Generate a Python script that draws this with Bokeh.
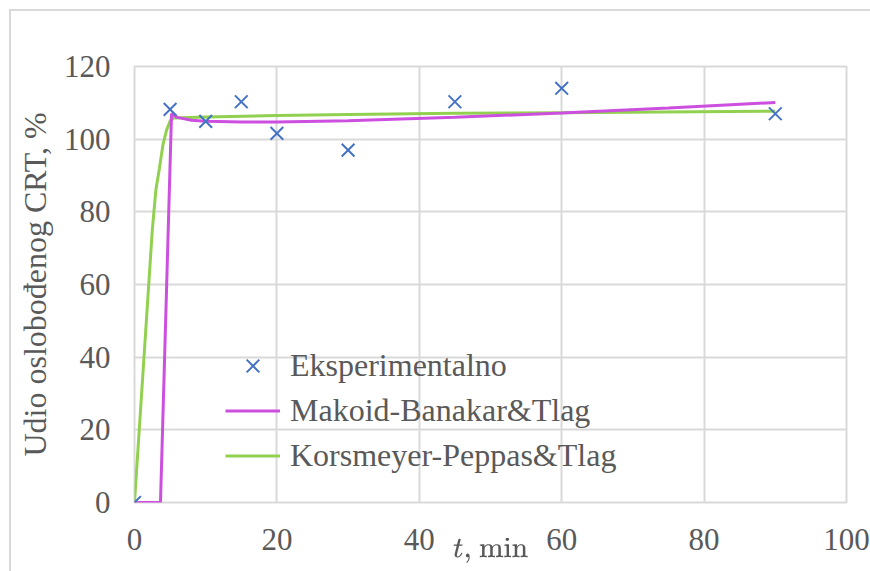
from bokeh.plotting import figure
from bokeh.models import Range1d, FixedTicker, Legend, LegendItem
from bokeh.embed import file_html
from bokeh.resources import INLINE

# Experimental data
t_exp = [0, 5, 10, 15, 20, 30, 45, 60, 90]
y_exp = [0, 108.2, 104.9, 110.3, 101.6, 97.0, 110.3, 114.0, 107.0]

# Makoid-Banakar & Tlag model
t_mb = [0, 3.65, 5.2, 6, 8, 10, 15, 20, 30, 45, 60, 75, 90]
y_mb = [0, 0, 107.0, 106.0, 105.2, 104.9, 104.7, 104.7, 105.1, 106.0, 107.2, 108.6, 110.1]

# Korsmeyer-Peppas & Tlag model
t_kp = [0, 0.5, 1, 1.5, 2, 2.5, 3, 3.5, 4, 4.5, 5, 5.5, 10, 20, 30, 45, 60, 90]
y_kp = [0, 15, 30, 45, 60, 75, 86, 92, 98.5, 102.5, 105, 105.8, 106.1, 106.5, 106.8, 107.1, 107.3, 107.7]

x_ticks = [0, 20, 40, 60, 80, 100]
y_ticks = [0, 20, 40, 60, 80, 100, 120]

FONT = "'Liberation Serif', serif"
TXT = "#595959"
GRID = "#d9d9d9"

W, H = 870, 571
p = figure(width=W, height=H, output_backend="svg", toolbar_location=None,
           x_range=Range1d(0, 100), y_range=Range1d(0, 120),
           min_border_left=134, min_border_right=W - 846, min_border_top=66, min_border_bottom=H - 502)
p.border_fill_alpha = 0
p.background_fill_color = "white"
p.styles = {"background": "linear-gradient(#d9d9d9,#d9d9d9) 9px 9px / 100% 2px no-repeat, "
                          "linear-gradient(#d9d9d9,#d9d9d9) 9px 9px / 2px 100% no-repeat, white"}

p.outline_line_color = GRID
p.outline_line_width = 2
for ax in (p.xaxis[0], p.yaxis[0]):
    ax.axis_line_color = None
    ax.major_tick_line_color = None
    ax.minor_tick_line_color = None
    ax.major_label_text_font = FONT
    ax.major_label_text_font_size = "31px"
    ax.major_label_text_color = TXT
    ax.axis_label_text_font = FONT
    ax.axis_label_text_font_size = "32px"
    ax.axis_label_text_color = TXT
    ax.axis_label_text_font_style = "normal"

p.xaxis[0].ticker = FixedTicker(ticks=x_ticks)
p.yaxis[0].ticker = FixedTicker(ticks=y_ticks)
p.xaxis[0].major_label_standoff = 20
p.yaxis[0].major_label_standoff = 18
p.yaxis[0].axis_label = "Udio oslobođenog CRT, %"
p.yaxis[0].axis_label_standoff = 8
p.xaxis[0].axis_label = r"$$t\text{, min}$$"
p.xaxis[0].axis_label_text_font_size = "28px"
p.xaxis[0].axis_label_standoff = -15

p.xgrid.ticker = FixedTicker(ticks=x_ticks)
p.ygrid.ticker = FixedTicker(ticks=y_ticks)
p.grid.grid_line_color = GRID
p.grid.grid_line_width = 2

r_kp = p.line(t_kp, y_kp, line_color="#92d050", line_width=3)
r_mb = p.line(t_mb, y_mb, line_color="#cc4fe0", line_width=3)
r_exp = p.scatter(t_exp, y_exp, marker="x", size=18, line_color="#4472c4", line_width=2)

legend = Legend(items=[
    LegendItem(label="Eksperimentalno", renderers=[r_exp]),
    LegendItem(label="Makoid-Banakar&Tlag", renderers=[r_mb]),
    LegendItem(label="Korsmeyer-Peppas&Tlag", renderers=[r_kp]),
], location=(91, 24))
legend.background_fill_alpha = 0
legend.border_line_color = None
legend.padding = 0
legend.margin = 0
legend.spacing = 0
legend.glyph_width = 55
legend.glyph_height = 45
legend.label_height = 45
legend.label_standoff = 10
legend.label_text_font = FONT
legend.label_text_font_size = "32px"
legend.label_text_color = TXT
p.add_layout(legend)

open("out.html", "w").write(file_html(p, INLINE))
